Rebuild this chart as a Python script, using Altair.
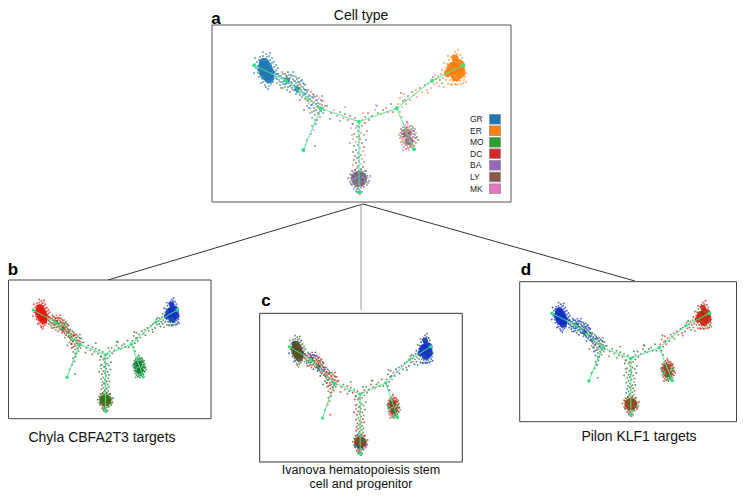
import altair as alt
import pandas as pd

CELL_TYPES = ["GR", "ER", "MO", "DC", "BA", "LY", "MK"]
CELL_COLORS = ["#1f77b4", "#ff7f0e", "#2ca02c", "#d62728", "#9467bd", "#8c564b", "#e377c2"]
SWATCH_Y = [119.3, 130.7, 142.3, 153.7, 165.3, 177, 188.7]

COLORS = dict(zip("GEMDBLK", CELL_COLORS))
COLORS.update({"r": "#e8160c", "g": "#0f7d30", "b": "#1030c4", "n": "#80592c", "o": "#b5431c", "d": "#3f6a08"})

LEFT = [(257,62),(258,66),(259,60),(258,70),(260,57),(261,64),(260,74),(259,77),(262,79),(261,83),(263,56),(264,59),(263,82),(265,85),(266,54),(267,57),(266,87),(268,83),(269,56),(270,60),(269,86),(271,80),(272,58),(272,63),(271,84),(273,78),(274,62),(274,67),(273,82),(275,72),(276,65),(276,70),(275,76),(277,74),(256,68),(258,73),(262,72),(264,68),(268,65),(270,72),(266,78),(272,70),(262,60),(260,68),(267,62),(265,75),(255,58),(254,73),(263,52),(270,53),(278,68),(268,89)]
ARM1 = [(274,72),(276,78),(277,83),(278,74),(279,80),(280,85),(281,76),(282,72),(282,82),(283,88),(284,78),(285,74),(285,84),(286,80),(287,90),(287,76),(288,72),(288,83),(289,79),(290,86),(290,92),(291,75),(291,82),(292,88),(293,79),(293,72),(294,85),(295,90),(295,81),(296,77),(296,94),(297,86),(298,82),(298,91),(299,78),(299,88),(300,95),(300,84),(301,90),(302,80),(302,97),(303,87),(304,93),(304,84),(305,99),(305,90)]
ARM3 = [(276,74),(277,79),(279,76),(280,82),(281,88),(282,78),(283,74),(283,84),(284,81),(285,87),(286,76),(286,84),(287,79),(288,87),(289,75),(289,82),(290,78),(291,85),(292,76),(292,83),(293,90),(294,81),(294,76),(295,86),(296,83),(296,89),(297,79),(297,92),(298,85),(299,82),(299,93),(300,88),(301,81),(301,86),(302,92),(303,83),(303,95),(304,89),(305,85),(305,94),(306,90),(306,98),(307,92),(308,101),(309,95),(309,108),(310,99),(311,105),(312,97),(313,103),(314,96),(314,111),(316,100),(318,106),(320,110),(322,101),(324,110),(309,99)]
ARM2 = [(306,94),(307,100),(307,106),(308,90),(308,97),(309,103),(310,96),(310,108),(311,92),(311,101),(312,105),(312,112),(313,98),(313,94),(314,108),(314,102),(315,115),(315,97),(316,104),(316,110),(317,100),(317,107),(317,96),(318,113),(318,103),(319,98),(319,108),(320,104),(320,117),(321,100),(321,111),(322,96),(322,105),(323,108),(323,113),(324,101),(325,106),(310,113),(304,110),(300,100),(315,120),(312,118),(319,114),(317,120),(316,124),(314,130),(312,126),(311,134),(315,146),(307,140)]
CENTER = [(327,106),(331,113),(334,110),(337,116),(340,112),(343,118),(345,114),(348,120),(350,116),(352,124),(355,118),(357,126),(362,120),(365,117),(368,113),(372,116),(375,110),(377,106),(378,113),(381,114),(383,110),(386,108),(388,112),(345,107),(340,121),(330,119),(363,113),(369,120),(391,104),(393,112),(376,105)]
STEM = [(353,124),(356,128),(362,126),(365,123),(351,128),(358,131),(361,133),(354,134),(364,135),(357,137),(360,139),(353,139),(366,140),(356,142),(362,143),(358,145),(354,146),(364,147),(360,148),(356,150),(363,151),(353,152),(358,153),(361,155),(355,156),(365,155),(357,158),(362,159),(354,160),(359,161),(364,162),(356,163),(361,164),(358,166),(353,165),(363,167),(357,168),(361,169),(355,170),(359,171),(365,171),(352,135),(367,131),(350,143),(359,127),(359,136),(359,142),(359,157)]
BOTTOM = [(350,174),(351,178),(350,182),(352,171),(352,175),(352,180),(352,185),(353,172),(354,177),(354,183),(355,170),(355,187),(356,174),(356,180),(356,185),(357,172),(357,177),(357,189),(358,183),(358,175),(359,171),(359,179),(359,186),(359,190),(360,173),(360,182),(361,176),(361,188),(361,170),(362,180),(362,185),(363,172),(363,177),(364,183),(364,187),(365,174),(365,179),(366,171),(366,182),(367,176),(367,185),(368,178),(369,181),(348,178),(370,176),(354,189),(357,192),(362,192),(360,194)]
BOTTOM2 = [(351,175),(353,176),(353,181),(355,173),(355,178),(355,183),(357,175),(357,181),(357,186),(358,178),(360,176),(360,185),(361,179),(362,174),(362,183),(363,180),(363,186),(364,176),(365,182),(366,178),(351,184),(358,188),(360,191),(356,191),(368,183)]
LOWRIGHT = [(400,133),(400,138),(401,129),(401,136),(401,142),(402,131),(402,134),(402,139),(402,145),(403,127),(403,137),(403,142),(404,130),(404,134),(404,147),(405,125),(405,139),(405,144),(406,128),(406,132),(406,136),(406,149),(407,142),(407,146),(408,124),(408,130),(408,134),(408,139),(409,127),(409,137),(409,144),(409,150),(410,132),(410,141),(410,147),(411,129),(411,135),(411,139),(412,126),(412,143),(412,148),(413,131),(413,137),(414,134),(414,141),(414,146),(415,129),(415,138),(416,133),(416,143),(417,137),(418,140),(399,135),(407,122),(403,150)]
LOWRIGHT2 = [(401,133),(402,137),(403,130),(403,134),(403,140),(404,137),(404,143),(405,128),(405,132),(405,136),(406,140),(406,145),(407,127),(407,131),(407,135),(407,139),(408,143),(408,148),(409,130),(409,133),(409,141),(410,126),(410,136),(410,144),(411,132),(411,142),(411,146),(412,130),(412,134),(412,139),(413,128),(413,141),(413,145),(414,131),(414,137),(415,135),(415,142),(416,138)]
ARMR = [(398,104),(400,98),(402,107),(403,101),(404,94),(405,100),(406,104),(400,112),(402,117),(408,96),(410,100),(412,92),(414,95),(416,90),(417,97),(420,88),(422,92),(425,85),(427,90),(428,83),(431,88),(433,77),(434,84),(436,79),(437,83),(438,76),(439,86),(440,80),(441,74),(442,83),(443,78),(444,87),(435,75),(401,93),(428,93)]
ER = [(445,74),(446,68),(446,80),(447,64),(447,72),(448,84),(448,77),(449,60),(449,68),(450,74),(450,80),(451,57),(451,64),(451,84),(452,70),(452,77),(453,55),(453,60),(453,81),(454,65),(454,74),(455,52),(455,57),(455,79),(455,84),(456,62),(456,70),(457,54),(457,76),(457,81),(458,50),(458,59),(458,66),(458,84),(459,73),(459,78),(460,55),(460,62),(460,81),(461,68),(461,75),(461,84),(462,58),(462,65),(462,78),(463,71),(463,83),(464,74),(464,67),(464,80),(465,77),(465,70),(466,82),(442,70),(444,63),(448,56),(466,73),(456,85),(452,85)]

CLUSTERS = [LEFT, ARM1, ARM3, ARM2, CENTER, STEM, BOTTOM, BOTTOM2, LOWRIGHT, LOWRIGHT2, ARMR, ER]

# colour cycle of every cluster, per panel (same order as CLUSTERS)
PATTERNS = {
    "a": ["G", "GGMGGMGLGMGDG", "GMGGLGMG", "GMLDGKMBLD", "LDKBMEL", "LBMDKGE", "BLGDMKLBG", "LDBGKML", "KBLMEDBK", "BKMLEDK", "EEKLEM", "E"],
    "b": ["r", "rngrn", "ngrn", "gnrgn", "gn", "gng", "ndg", "dgn", "g", "gg", "gng", "bbbgb"],
    "c": ["gnbng", "brgnr", "rnbg", "rngr", "nrg", "grn", "grbn", "rng", "ngr", "rng", "ngb", "bbgb"],
    "d": ["b", "bbgb", "bgb", "gbng", "gn", "ggn", "rngn", "ngr", "rgn", "rng", "rng", "rrnrg"],
}

# big soft discs for the saturated cores: x, y, radius, then the colour per panel
CORES = [
    (264, 63, 6, "GrnB"), (265, 68, 8.5, "GrnB"), (267, 73, 8.5, "GrnB"), (269, 78, 6, "GrnB"),
    (287, 80, 3, "GnbB"), (297, 89, 3, "GnnB"),
    (359, 179, 9, "VdnO"), (407, 133, 5, "WgnN"), (409, 141, 5, "WgnN"),
    (455, 58, 4, "EbbR"), (453, 68, 7, "EbbR"), (458, 66, 8, "EbbR"), (461, 73, 5, "EbbR"), (448, 73, 4.5, "EbbR"), (456, 76, 6, "EbbR"),
]
CORE_COLORS = {"G": "#1f77b4", "r": "#e8160c", "n": "#5a4a1c", "B": "#1030c4", "g": "#15702c", "b": "#1030c4",
               "V": "#6c6a88", "d": "#3f6a08", "O": "#a83a12", "W": "#8d7f93", "N": "#9a4f22",
               "E": "#ff7f0e", "R": "#d0260c"}

TREE_NODES = [(254.3,65.3),(286,80.7),(321,108.3),(303.3,150),(359,121.7),(359,192.3),(396.7,108.3),(414,149.3),(432,80.7),(463.3,65.3)]
TREE_EDGES = [(0,1),(1,2),(2,3),(2,4),(4,5),(4,6),(6,7),(6,8),(8,9)]

# panel: x scale, x of left tree tip, y scale, y of tree tips
PANELS = {
    "a": (1.0, 254.3, 1.0, 65.3),
    "b": (0.689, 33.3, 0.795, 310),
    "c": (0.677, 289.3, 0.843, 346.7),
    "d": (0.753, 552, 0.80, 313.3),
}
FRAMES = [(212,25,511,202,"#555555"),(8.5,280,211,418.7,"#444444"),(259.7,313.3,462.3,462,"#333333"),(519.7,281.7,736.5,421.7,"#444444")]
CONNECTORS = [(363,204,108,280,"#333333"),(363,204,635,281,"#333333"),(361,204,361,310,"#999999")]
TITLES = [("Cell type",361,16),("Chyla CBFA2T3 targets",102,438),("Pilon KLF1 targets",639,437)]
TITLE_C = [("Ivanova hematopoiesis stem",361,470),("cell and progenitor",361,483.5)]
LETTERS = [("a",216,19),("b",13,269.6),("c",266,300.6),("d",526,269.6)]


def tx(p, x):
    s, o, _, _ = PANELS[p]
    return o + (x - 254.3) * s


def ty(p, y):
    _, _, s, o = PANELS[p]
    return o + (y - 65.3) * s


pts, cores, nodes, edges = [], [], [], []
for i, p in enumerate(PANELS):
    for cluster, pattern in zip(CLUSTERS, PATTERNS[p]):
        for j, (x, y) in enumerate(cluster):
            pts.append({"x": tx(p, x), "y": ty(p, y), "c": COLORS[pattern[j % len(pattern)]]})
    for x, y, r, codes in CORES:
        s = PANELS[p][0] * PANELS[p][2]
        cores.append({"x": tx(p, x), "y": ty(p, y), "s": 3.1416 * r * r * s, "c": CORE_COLORS[codes[i]]})
    for x, y in TREE_NODES:
        nodes.append({"x": tx(p, x), "y": ty(p, y), "s": 16 * PANELS[p][0]})
    for m, n in TREE_EDGES:
        edges.append({"x": tx(p, TREE_NODES[m][0]), "y": ty(p, TREE_NODES[m][1]),
                      "x2": tx(p, TREE_NODES[n][0]), "y2": ty(p, TREE_NODES[n][1])})

SX = alt.Scale(domain=[8, 737], nice=False, zero=False)
SY = alt.Scale(domain=[8, 490], range=[0, 482], nice=False, zero=False)
X = alt.X("x:Q", axis=None, scale=SX)
Y = alt.Y("y:Q", axis=None, scale=SY)
X2, Y2 = alt.X2("x2:Q"), alt.Y2("y2:Q")
FONT = "Liberation Sans"

frames = pd.DataFrame(FRAMES, columns=["x", "y", "x2", "y2", "c"])
frame_layer = alt.Chart(frames).mark_rect(fill="white", strokeWidth=1).encode(
    x=X, x2=X2, y=Y, y2=Y2, stroke=alt.Color("c:N", scale=None))

conn = pd.DataFrame(CONNECTORS, columns=["x", "y", "x2", "y2", "c"])
conn_layer = alt.Chart(conn).mark_rule(strokeWidth=1).encode(
    x=X, x2=X2, y=Y, y2=Y2, color=alt.Color("c:N", scale=None))

core_layer = alt.Chart(pd.DataFrame(cores)).mark_circle(opacity=0.9).encode(
    x=X, y=Y, size=alt.Size("s:Q", scale=None), color=alt.Color("c:N", scale=None))
pt_layer = alt.Chart(pd.DataFrame(pts)).mark_circle(size=3.6, opacity=0.75).encode(
    x=X, y=Y, color=alt.Color("c:N", scale=None))
edge_layer = alt.Chart(pd.DataFrame(edges)).mark_rule(color="#4be892", strokeWidth=1, opacity=0.95).encode(
    x=X, x2=X2, y=Y, y2=Y2)
node_layer = alt.Chart(pd.DataFrame(nodes)).mark_circle(color="#35e082", opacity=1).encode(
    x=X, y=Y, size=alt.Size("s:Q", scale=None))

legend = pd.DataFrame({"t": CELL_TYPES, "c": CELL_COLORS, "y": SWATCH_Y,
                       "ytop": [v - 4.8 for v in SWATCH_Y], "ybot": [v + 4.8 for v in SWATCH_Y],
                       "xl": [470] * 7, "xa": [489.5] * 7, "xb": [500.5] * 7})
swatch_layer = alt.Chart(legend).mark_rect(stroke="#888888", strokeWidth=0.7).encode(
    x=alt.X("xa:Q", axis=None, scale=SX), x2=alt.X2("xb:Q"),
    y=alt.Y("ytop:Q", axis=None, scale=SY), y2=alt.Y2("ybot:Q"),
    fill=alt.Color("c:N", scale=None))
legend_text = alt.Chart(legend).mark_text(font=FONT, fontSize=8.5, align="left", baseline="middle", color="#222222").encode(
    x=alt.X("xl:Q", axis=None, scale=SX), y=Y, text="t:N")

titles = pd.DataFrame(TITLES, columns=["t", "x", "y"])
title_layer = alt.Chart(titles).mark_text(font=FONT, fontSize=14, align="center", baseline="middle", color="#111111").encode(
    x=X, y=Y, text="t:N")
title_c = pd.DataFrame(TITLE_C, columns=["t", "x", "y"])
title_c_layer = alt.Chart(title_c).mark_text(font=FONT, fontSize=12.5, align="center", baseline="middle", color="#111111").encode(
    x=X, y=Y, text="t:N")
letters = pd.DataFrame(LETTERS, columns=["t", "x", "y"])
letter_layer = alt.Chart(letters).mark_text(font=FONT, fontSize=17, fontWeight="bold", align="center", baseline="middle", color="#000000").encode(
    x=X, y=Y, text="t:N")

chart = alt.layer(
    conn_layer, frame_layer, core_layer, pt_layer, edge_layer, node_layer,
    swatch_layer, legend_text, title_layer, title_c_layer, letter_layer,
).properties(width=729, height=482, padding=0, autosize=alt.AutoSizeParams(type="none")
).configure_view(stroke=None)

chart.save("out.html", embed_options={"renderer": "svg", "actions": False})
